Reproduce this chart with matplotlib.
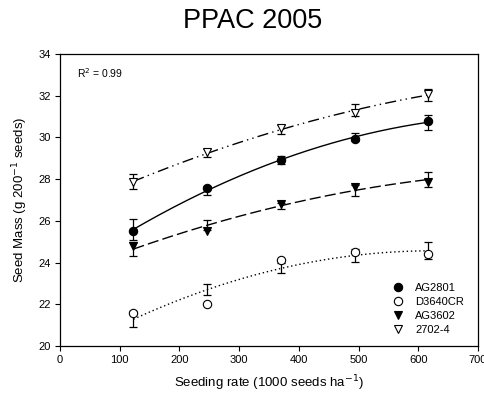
import numpy as np
import matplotlib
matplotlib.use("Agg")
import matplotlib.pyplot as plt

plt.rcParams['font.family'] = ['Liberation Sans', 'DejaVu Sans']

rates = [123, 247, 370, 494, 617]
hybrids = ["AG2801", "D3640CR", "AG3602", "2702-4"]
ag2801 = [25.53, 27.59, 28.92, 29.91, 30.79]
d3640cr = [21.57, 22.0, 24.12, 24.52, 24.41]
ag3602 = [24.78, 25.5, 26.81, 27.64, 27.88]
h2702 = [27.85, 29.31, 30.43, 31.17, 32.1]
err_ag2801 = [0.5, 0.2, 0.2, 0.2, 0.35]
err_d3640cr = [0.38, 0.26, 0.24, 0.32, 0.4]
err_ag3602 = [0.35, 0.25, 0.15, 0.25, 0.35]
err_2702 = [0.35, 0.2, 0.2, 0.3, 0.3]

series = [ag2801, d3640cr, ag3602, h2702]
errs = [err_ag2801, err_d3640cr, err_ag3602, err_2702]
markers = ['o', 'o', 'v', 'v']
faces = ['black', 'white', 'black', 'white']
lstyles = ['-', (0, (1, 2)), (0, (8, 3)), (0, (8, 3, 1, 3, 1, 3))]

fig = plt.figure(figsize=(4.85, 3.96), dpi=100)
ax = fig.add_axes([60/485, 1-346/396, 418/485, 292/396])

x = np.array(rates, dtype=float)
xs = np.linspace(x[0], x[-1], 200)
handles = []
for name, y, e, m, fc, ls in zip(hybrids, series, errs, markers, faces, lstyles):
    coef = np.polyfit(x, y, 2)
    ax.plot(xs, np.polyval(coef, xs), color='black', lw=1.0, ls=ls, zorder=2)
    fitv = np.polyval(coef, x)
    ax.errorbar(x, fitv, yerr=e, fmt='none', ecolor='black', elinewidth=0.9,
                capsize=3, capthick=0.9, zorder=3)
    h, = ax.plot(x, y, ls='none', marker=m, markersize=6, markerfacecolor=fc,
                 markeredgecolor='black', markeredgewidth=0.8, zorder=4, label=name)
    handles.append(h)

ax.set_xlim(0, 700)
ax.set_ylim(20, 34)
ax.set_xticks(range(0, 701, 100))
ax.set_yticks(range(20, 35, 2))
ax.tick_params(direction='out', length=3.5, width=0.8, labelsize=8, pad=3,
               top=False, right=False)
for s in ax.spines.values():
    s.set_linewidth(0.9)

ax.set_xlabel("Seeding rate (1000 seeds ha$^{-1}$)", fontsize=9.5, labelpad=6)
ax.set_ylabel("Seed Mass (g 200$^{-1}$ seeds)", fontsize=9.5, labelpad=6)
ax.text(0.04, 0.935, "R$^2$ = 0.99", transform=ax.transAxes, fontsize=7.5, va='center')

leg = ax.legend(handles=handles, loc='lower right', frameon=False, fontsize=8,
                handlelength=1.0, handletextpad=1.0, labelspacing=0.35,
                bbox_to_anchor=(0.99, 0.005))

fig.text(253/485, 1-21/396, "PPAC 2005", ha='center', va='center', fontsize=19.5)

fig.savefig("out.png", dpi=100)
